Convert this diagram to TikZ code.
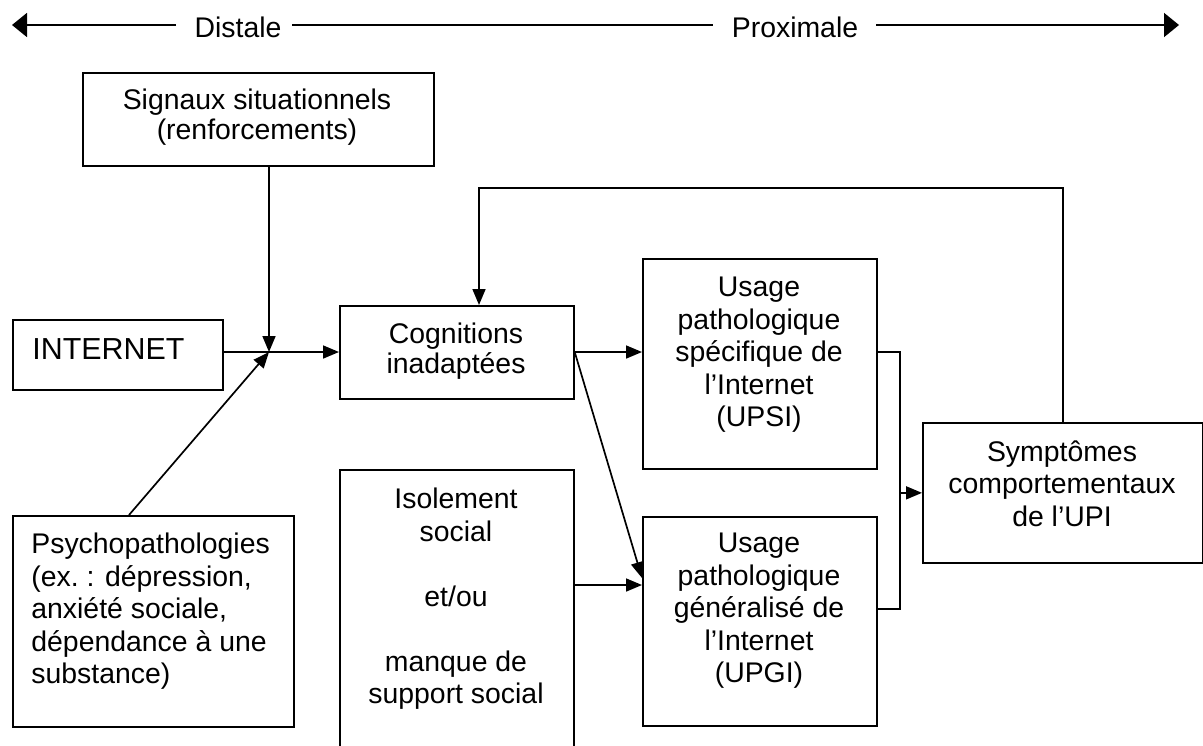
\documentclass[tikz,border=0pt]{standalone}
\usepackage{fontspec}
\setmainfont{Liberation Sans}
\usetikzlibrary{arrows.meta}
\begin{document}
\begin{tikzpicture}[x=0.5pt,y=-0.5pt,
  box/.style={draw,line width=0.85pt,inner sep=0pt,anchor=north west},
  txt/.style={inner sep=0pt,anchor=north,align=center,font=\fontsize{14.2}{16.25}\selectfont},
  ln/.style={line width=0.85pt},
  arr/.style={line width=0.85pt,-{Triangle[length=8pt,width=6.5pt]}},
  bigarr/.style={line width=0.85pt,-{Triangle[length=7.5pt,width=12pt]}}]
\useasboundingbox (0,0) rectangle (1203,745);
\clip (0,0) rectangle (1203,745);

% top axis
\coordinate (L) at (12,25);
\coordinate (R) at (1179,25);
\coordinate (d1) at (176,25);
\coordinate (d2) at (292,25);
\coordinate (p1) at (713,25);
\coordinate (p2) at (876,25);
\node[txt,anchor=base] (dist) at (238,37) {Distale};
\node[txt,anchor=base] (prox) at (795,37) {Proximale};
\draw[bigarr] (d1) -- (L);
\draw[ln] (d2) -- (p1);
\draw[bigarr] (p2) -- (R);

% boxes
\node[box,minimum width=175.5pt,minimum height=46.5pt] (sig) at (82,72) {};
\node[box,minimum width=105pt,minimum height=35pt] (inet) at (12,319) {};
\node[box,minimum width=117pt,minimum height=46.5pt] (cog) at (339,305) {};
\node[box,minimum width=140.5pt,minimum height=105.5pt] (psy) at (12,515) {};
\node[box,minimum width=117pt,minimum height=150.5pt] (iso) at (339,469) {};
\node[box,minimum width=117pt,minimum height=105pt] (upsi) at (642,258) {};
\node[box,minimum width=117pt,minimum height=104.5pt] (upgi) at (642,516) {};
\node[box,minimum width=140pt,minimum height=70pt] (sym) at (922,422) {};

% texts
\node[txt,font=\fontsize{14.2}{15}\selectfont] (sigt) at (257,89) {Signaux situationnels\\(renforcements)};
\node[txt,anchor=north west,font=\fontsize{15.2}{17}\selectfont] (inett) at (32,338) {INTERNET};
\node[txt,font=\fontsize{14.2}{15}\selectfont] (cogt) at (456,323) {Cognitions\\inadaptées};
\node[txt,anchor=north west,align=left] (psyt) at (31,533) {Psychopathologies\\(ex.~: dépression,\\anxiété sociale,\\dépendance à une\\substance)};
\node[txt] (isot) at (456,488) {Isolement\\social\\\mbox{}\\et/ou\\\mbox{}\\manque de\\support social};
\node[txt] (upsit) at (759,277) {Usage\\pathologique\\spécifique de\\l’Internet\\(UPSI)};
\node[txt] (upgit) at (759,533) {Usage\\pathologique\\généralisé de\\l’Internet\\(UPGI)};
\node[txt] (symt) at (1062,440) {Symptômes\\comportementaux\\de l’UPI};

% connectors
\coordinate (j) at (269,352);
\coordinate (pa) at (129,515);
\coordinate (bt) at (900,352);
\coordinate (bb) at (900,609);
\coordinate (fbk) at (479,188);
\draw[arr] (sig.south -| j) -- (j);
\draw[arr] (pa) -- (j);
\draw[arr] (inet.east |- j) -- (cog.west |- j);
\draw[arr] (cog.east |- j) -- (upsi.west |- j);
\draw[arr] (cog.east |- j) -- (upgi.west |- 0,578);
\draw[arr] (iso.east |- 0,585) -- (upgi.west |- 0,585);
\draw[ln] (upsi.east |- bt) -- (bt) -- (bb) -- (upgi.east |- bb);
\draw[arr] (bt |- sym.west) -- (sym.west);
\draw[arr] (sym.north) |- (fbk) -- (fbk |- cog.north);
\end{tikzpicture}
\end{document}
